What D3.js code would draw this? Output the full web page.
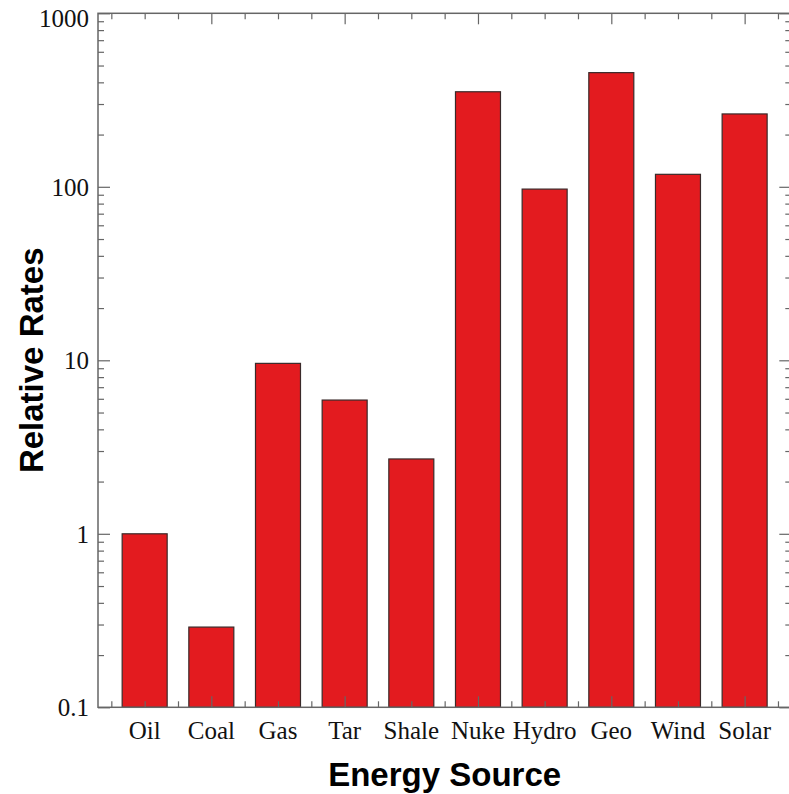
<!DOCTYPE html>
<html lang="en">
	<head>
		<meta charset="utf-8">
		<title>Relative Rates by Energy Source</title>
		<script type="text/javascript" src="https://cdn.jsdelivr.net/npm/d3@7"></script>
		<style type="text/css">
			body { margin: 0; background: #fff; }
			.ticklabel { font-family: "Liberation Serif", "Times New Roman", serif; font-size: 25px; fill: #111; }
			.title { font-family: "Liberation Sans", Arial, sans-serif; font-size: 33px; font-weight: bold; fill: #000; }
		</style>
	</head>
	<body>

		<div id="chart"></div>

		<script type="text/javascript">

		var sources = ["Oil", "Coal", "Gas", "Tar", "Shale", "Nuke", "Hydro", "Geo", "Wind", "Solar"]
		var rates = [1.0, 0.29, 9.6, 5.9, 2.7, 353, 97, 455, 118, 263]
		var yTicks = [0.1, 1, 10, 100, 1000]
		var yTickLabels = ["0.1", "1", "10", "100", "1000"]

		drawChart()

		function drawChart(){

				var w = 789
				var h = 794
				var left = 98
				var right = 791.3
				var top = 13.3
				var bottom = 707.3
				var axisColor = "#666"

				var svg = d3.select("#chart")
						.append("svg")
						.attr("width", w)
						.attr("height", h)

				// bars sit at positions 1..10, frame spans 0.3..10.7
				var xScale = d3.scaleLinear()
						.domain([0.3, 10.7])
						.range([left, right])

				var yScale = d3.scaleLog()
						.domain([0.1, 1000])
						.range([bottom, top])

				var barHalf = 0.3375

				svg.selectAll("rect.bar")
						.data(rates)
						.enter()
						.append("rect")
						.attr("class", "bar")
						.attr("x", function(d, i) { return xScale(i + 1 - barHalf) })
						.attr("width", function(d, i) { return xScale(i + 1 + barHalf) - xScale(i + 1 - barHalf) })
						.attr("y", function(d) { return yScale(d) })
						.attr("height", function(d) { return bottom - yScale(d) })
						.style("fill", "#e31b1f")
						.style("stroke", "#3a2a2a")
						.style("stroke-width", 1.2)

				// x ticks every half step, longer at even positions
				var xt = d3.range(0.5, 10.51, 0.5)
				function xLen(v) { return (v % 2 === 0) ? 11 : 6 }

				var xAxisBottom = d3.axisBottom(xScale)
						.tickValues(xt)
						.tickSize(0)
						.tickFormat("")
				var xAxisTop = d3.axisTop(xScale)
						.tickValues(xt)
						.tickSize(0)
						.tickFormat("")

				var gb = svg.append("g")
						.attr("transform", "translate(0," + bottom + ")")
						.call(xAxisBottom)
				gb.selectAll(".tick line").attr("y2", function(d) { return -xLen(d) })

				var gt = svg.append("g")
						.attr("transform", "translate(0," + top + ")")
						.call(xAxisTop)
				gt.selectAll(".tick line").attr("y2", function(d) { return xLen(d) })

				// y ticks: decades long, 2..9 short
				var minor = []
				yTicks.forEach(function(t) {
						if (t < 1000) d3.range(2, 10).forEach(function(k) { minor.push(t * k) })
				})
				var allY = yTicks.concat(minor)
				function yLen(v) { return yTicks.indexOf(v) >= 0 ? 12 : 6 }

				var yAxisLeft = d3.axisLeft(yScale)
						.tickValues(allY)
						.tickSize(0)
						.tickFormat("")
				var yAxisRight = d3.axisRight(yScale)
						.tickValues(allY)
						.tickSize(0)
						.tickFormat("")

				var gl = svg.append("g")
						.attr("transform", "translate(" + left + ",0)")
						.call(yAxisLeft)
				gl.selectAll(".tick line").attr("x2", function(d) { return yLen(d) })

				var gr = svg.append("g")
						.attr("transform", "translate(" + right + ",0)")
						.call(yAxisRight)
				gr.selectAll(".tick line").attr("x2", function(d) { return -yLen(d) })

				svg.selectAll(".domain").remove()
				svg.selectAll(".tick line")
						.style("stroke", axisColor)
						.style("stroke-width", 1.2)

				// frame
				svg.append("rect")
						.attr("x", left)
						.attr("y", top)
						.attr("width", right - left)
						.attr("height", bottom - top)
						.style("fill", "none")
						.style("stroke", axisColor)
						.style("stroke-width", 1.5)

				// y tick labels
				svg.selectAll("text.ylab")
						.data(yTicks)
						.enter()
						.append("text")
						.attr("class", "ticklabel")
						.attr("x", left - 9)
						.attr("y", function(d) { return yScale(d) + (d === 1000 ? 14 : 9) })
						.attr("text-anchor", "end")
						.text(function(d, i) { return yTickLabels[i] })

				// x category labels
				svg.selectAll("text.xlab")
						.data(sources)
						.enter()
						.append("text")
						.attr("class", "ticklabel")
						.attr("x", function(d, i) { return xScale(i + 1) })
						.attr("y", 739)
						.attr("text-anchor", "middle")
						.text(function(d) { return d })

				svg.append("text")
						.attr("class", "title")
						.attr("x", (left + right) / 2)
						.attr("y", 786)
						.attr("text-anchor", "middle")
						.text("Energy Source")

				svg.append("text")
						.attr("class", "title")
						.attr("transform", "translate(43," + ((top + bottom) / 2) + ") rotate(-90)")
						.attr("text-anchor", "middle")
						.text("Relative Rates")
		}

		</script>
	</body>
</html>
